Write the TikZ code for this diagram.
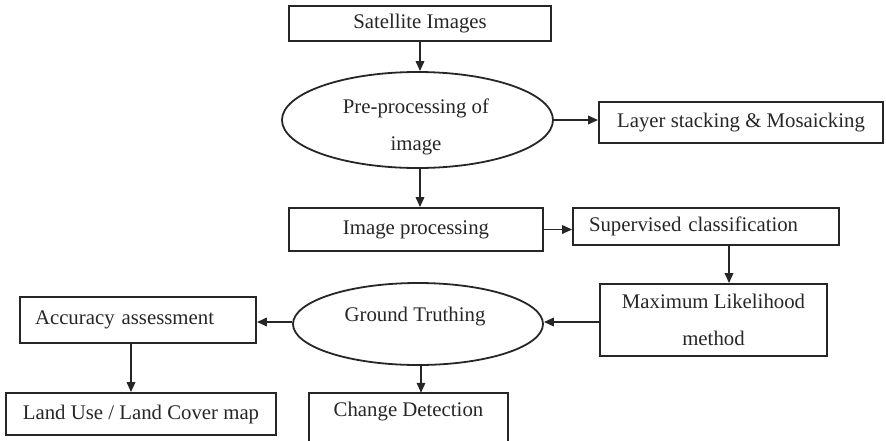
\documentclass[tikz,border=0pt]{standalone}
\usepackage{fontspec}
\setmainfont{Liberation Serif}
\usetikzlibrary{shapes.geometric,arrows.meta}
\begin{document}
\begin{tikzpicture}[x=1pt,y=-1pt,
  every node/.style={font=\fontsize{20.8}{37}\selectfont, text=black!85},
  box/.style={draw=black!85, line width=1.8pt, inner sep=0pt, align=center},
  lbox/.style={box, align=left, inner xsep=#1},
  oval/.style={draw=black!85, ellipse, line width=1.8pt, inner sep=0pt},
  txt/.style={inner sep=0pt, align=center},
  flow/.style={draw=black!85, line width=1.8pt, -{Triangle[length=10pt,width=8.5pt]}}]
\useasboundingbox (0,0) rectangle (886,440);
\clip (0,0) rectangle (886,440);

% boxes and ovals
\node[box, minimum width=262, minimum height=35] (sat) at (420,23.5) {Satellite Images};
\node[oval, minimum width=271, minimum height=96] (pre) at (417.5,120) {};
\node[txt] (pretxt) at (416,126.5) {Pre-processing of\\image};
\node[box, minimum width=284, minimum height=41] (layer) at (741,122.5) {Layer stacking \& Mosaicking};
\node[box, minimum width=254, minimum height=43] (img) at (416,229.5) {Image processing};
\node[lbox=16pt, text width=234, minimum height=37] (sup) at (706,226.5) {Supervised classification};
\node[box, minimum width=227, minimum height=72] (ml) at (713.5,320) {Maximum Likelihood\\method};
\node[oval, minimum width=250, minimum height=82] (gt) at (418,324) {};
\node[txt] (gttxt) at (415,317) {Ground Truthing};
\node[lbox=15pt, text width=206, minimum height=46] (acc) at (138,320) {Accuracy assessment};
\node[box, minimum width=270, minimum height=42] (land) at (141,414) {Land Use / Land Cover map};
\node[txt, minimum width=199, minimum height=38] (chg) at (408.5,412) {Change Detection};
\draw[black!85, line width=1.8pt] (chg.north west) rectangle ([yshift=-12pt]chg.south east);

% connectors
\draw[flow] (sat.south) -- (sat.south |- pre.north);
\draw[flow] (pre.east) -- (pre.east -| layer.west);
\draw[flow] (sat.south |- pre.south) -- (sat.south |- img.north);
\draw[flow] (img.east) -- (img.east -| sup.west);
\draw[flow] ([xshift=23pt]sup.south) -- ([xshift=23pt]sup.south |- ml.north);
\draw[flow] ([yshift=-2pt]ml.west) -- ([yshift=-2pt]ml.west -| gt.east);
\draw[flow] ([yshift=2pt]gt.west) -- ([yshift=2pt]gt.west -| acc.east);
\draw[flow] ([xshift=-7pt]acc.south) -- ([xshift=-7pt]acc.south |- land.north);
\draw[flow] ([xshift=3pt]gt.south) -- ([xshift=3pt]gt.south |- chg.north);
\end{tikzpicture}
\end{document}
